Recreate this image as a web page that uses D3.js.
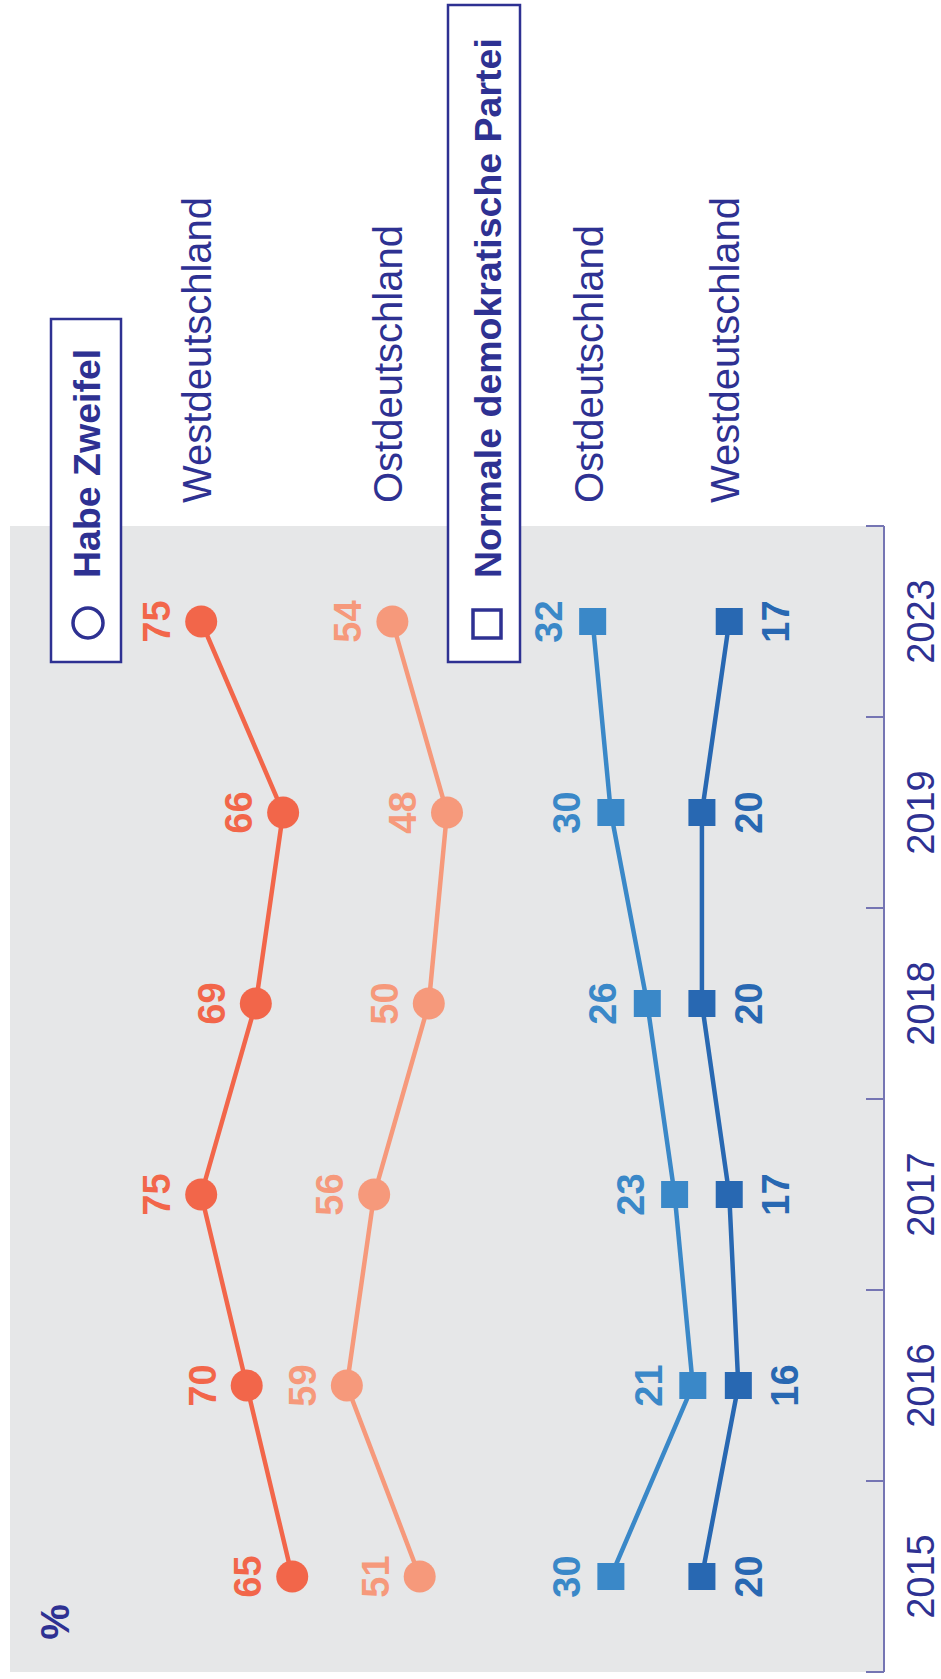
<!DOCTYPE html>
<html>
<head>
<meta charset="utf-8">
<script src="https://cdn.jsdelivr.net/npm/d3@7"></script>
<style>
  html, body { margin: 0; padding: 0; background: #fff; }
  svg { display: block; }
</style>
</head>
<body>
<div id="chart"></div>
<script>
(function(){

    // data
    var years = ["2015", "2016", "2017", "2018", "2019", "2023"];
    var westZweifel = [65, 70, 75, 69, 66, 75];
    var ostZweifel = [51, 59, 56, 50, 48, 54];
    var ostPartei = [30, 21, 23, 26, 30, 32];
    var westPartei = [20, 16, 17, 20, 20, 17];
    var legendLabels = ["Habe Zweifel", "Normale demokratische Partei"];

    var navy = "#2e3192";
    var series = [
        {name: "Westdeutschland", values: westZweifel, color: "#f2664a", shape: "circle", labelSide: "above"},
        {name: "Ostdeutschland", values: ostZweifel, color: "#f6997b", shape: "circle", labelSide: "above"},
        {name: "Ostdeutschland", values: ostPartei, color: "#3a88c8", shape: "square", labelSide: "above"},
        {name: "Westdeutschland", values: westPartei, color: "#2868b2", shape: "square", labelSide: "below"}
    ];

    var W = 941, H = 1679;
    var svg = d3.select("#chart").append("svg")
        .attr("width", W)
        .attr("height", H);

    // the whole chart is drawn lying on its side: build it flat, then turn it
    var g = svg.append("g")
        .attr("transform", "translate(0," + H + ") rotate(-90)");

    var x = d3.scaleBand().domain(years).range([7, 1153]);
    var y = d3.scaleLinear().domain([0, 96]).range([884, 10]);
    var cx = function(d){ return x(d) + x.bandwidth() / 2; };

    // grey plot area
    g.append("rect")
        .attr("x", x.range()[0])
        .attr("y", y.range()[1])
        .attr("width", x.range()[1] - x.range()[0])
        .attr("height", y.range()[0] - y.range()[1])
        .attr("fill", "#e6e7e8");

    // axis
    var axisColor = "#7575b3";
    g.append("line")
        .attr("x1", x.range()[0]).attr("x2", x.range()[1])
        .attr("y1", y(0)).attr("y2", y(0))
        .attr("stroke", axisColor).attr("stroke-width", 2);
    var edges = [x.range()[0]].concat(years.map(function(d){ return x(d) + x.bandwidth(); }));
    g.selectAll(".tick").data(edges).enter().append("line")
        .attr("class", "tick")
        .attr("x1", function(d){ return d; }).attr("x2", function(d){ return d; })
        .attr("y1", y(0)).attr("y2", y(0) - 18)
        .attr("stroke", axisColor).attr("stroke-width", 2);
    g.selectAll(".year").data(years).enter().append("text")
        .attr("class", "year")
        .attr("x", cx)
        .attr("y", y(0) + 50)
        .attr("text-anchor", "middle")
        .attr("font-family", "'Liberation Sans', Arial, sans-serif")
        .attr("font-weight", 300)
        .attr("font-size", 38)
        .attr("fill", navy)
        .text(function(d){ return d; });

    // percent sign
    g.append("text")
        .attr("x", 57).attr("y", 69)
        .attr("text-anchor", "middle")
        .attr("font-family", "'Liberation Sans', Arial, sans-serif")
        .attr("font-weight", "bold")
        .attr("font-size", 40)
        .attr("fill", navy)
        .text("%");

    var line = d3.line()
        .x(function(d, i){ return cx(years[i]); })
        .y(function(d){ return y(d); });

    series.forEach(function(s){
        var sg = g.append("g");
        sg.append("path")
            .attr("d", line(s.values))
            .attr("fill", "none")
            .attr("stroke", s.color)
            .attr("stroke-width", 4.5);

        if (s.shape === "circle"){
            sg.selectAll("circle").data(s.values).enter().append("circle")
                .attr("cx", function(d, i){ return cx(years[i]); })
                .attr("cy", function(d){ return y(d); })
                .attr("r", 16)
                .attr("fill", s.color);
        } else {
            sg.selectAll("rect").data(s.values).enter().append("rect")
                .attr("x", function(d, i){ return cx(years[i]) - 13.5; })
                .attr("y", function(d){ return y(d) - 13.5; })
                .attr("width", 27).attr("height", 27)
                .attr("fill", s.color);
        }

        sg.selectAll("text.val").data(s.values).enter().append("text")
            .attr("class", "val")
            .attr("x", function(d, i){ return cx(years[i]); })
            .attr("y", function(d){ return s.labelSide === "above" ? y(d) - 31 : y(d) + 60; })
            .attr("text-anchor", "middle")
            .attr("font-family", "'Liberation Sans', Arial, sans-serif")
            .attr("font-weight", "bold")
            .attr("font-size", 38)
            .attr("fill", s.color)
            .text(function(d){ return d; });

        // series name, beyond the plot, at the last value
        g.append("text")
            .attr("x", 1176)
            .attr("y", y(s.values[s.values.length - 1]) - 4)
            .attr("dominant-baseline", "central")
            .attr("font-family", "'Liberation Sans', Arial, sans-serif")
            .attr("font-weight", 300)
            .attr("font-size", 40)
            .attr("fill", navy)
            .text(s.name);
    });

    // legend boxes
    var legends = [
        {label: legendLabels[0], shape: "circle", x: 1017, y: 51, w: 343, h: 70, base: 100, sy: 88},
        {label: legendLabels[1], shape: "square", x: 1017, y: 448, w: 657, h: 72, base: 501, sy: 487}
    ];
    legends.forEach(function(l){
        var lg = g.append("g");
        lg.append("rect")
            .attr("x", l.x).attr("y", l.y)
            .attr("width", l.w).attr("height", l.h)
            .attr("fill", "#fff")
            .attr("stroke", navy)
            .attr("stroke-width", 2.5);
        if (l.shape === "circle"){
            lg.append("circle")
                .attr("cx", 1056).attr("cy", l.sy).attr("r", 15)
                .attr("fill", "none").attr("stroke", navy).attr("stroke-width", 3.5);
        } else {
            lg.append("rect")
                .attr("x", 1041).attr("y", l.sy - 14)
                .attr("width", 28).attr("height", 28)
                .attr("fill", "none").attr("stroke", navy).attr("stroke-width", 3.5);
        }
        lg.append("text")
            .attr("x", 1101).attr("y", l.base)
            .attr("font-family", "'Liberation Sans', Arial, sans-serif")
            .attr("font-weight", "bold")
            .attr("font-size", 37.5)
            .attr("fill", navy)
            .text(l.label);
    });

})();
</script>
</body>
</html>
